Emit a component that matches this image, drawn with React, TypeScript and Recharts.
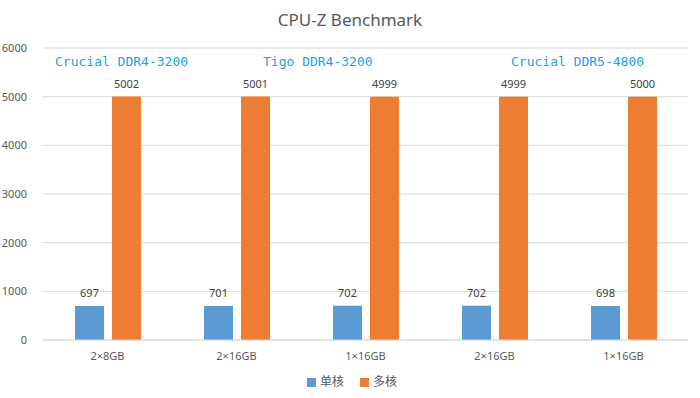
import { BarChart, Bar, XAxis, YAxis, CartesianGrid, Legend, LabelList } from 'recharts'

const configs = ['2×8GB', '2×16GB', '1×16GB', '2×16GB', '1×16GB']
const singleCore = [697, 701, 702, 702, 698]
const multiCore = [5002, 5001, 4999, 4999, 5000]
const yTicks = [0, 1000, 2000, 3000, 4000, 5000, 6000]

const memoryKits = [
  { name: 'Crucial DDR4-3200', left: 55 },
  { name: 'Tigo DDR4-3200', left: 263 },
  { name: 'Crucial DDR5-4800', left: 511 },
]

const data = configs.map((c, i) => ({
  config: c,
  single: singleCore[i],
  multi: multiCore[i],
}))

const font = '"Noto Sans", "Noto Sans CJK SC", sans-serif'

export default function App() {
  return (
    <div style={{ position: 'absolute', left: 0, top: 0, width: 700, height: 398, background: '#fff', fontFamily: font }}>
      <div style={{ position: 'absolute', top: 8, width: 700, textAlign: 'center', fontSize: 17, color: '#595959' }}>
        CPU-Z Benchmark
      </div>
      {memoryKits.map(k => (
        <div
          key={k.name + k.left}
          style={{
            position: 'absolute', left: k.left, top: 54, fontSize: 13,
            fontFamily: '"DejaVu Sans Mono", monospace', color: '#1a9ff0', whiteSpace: 'pre',
          }}
        >
          {k.name}
        </div>
      ))}
      <BarChart
        width={700}
        height={398}
        data={data}
        margin={{ top: 48, right: 12, bottom: 15, left: 0 }}
        barGap={8}
        barSize={29}
      >
        <CartesianGrid vertical={false} stroke="#d9d9d9" />
        <XAxis
          dataKey="config"
          height={25}
          tickLine={false}
          axisLine={{ stroke: '#d9d9d9' }}
          tick={{ fontSize: 11, fill: '#595959', fontFamily: font }}
          tickMargin={6}
        />
        <YAxis
          width={43}
          domain={[0, 6000]}
          ticks={yTicks}
          tickLine={false}
          axisLine={false}
          tick={{ fontSize: 11, fill: '#595959', fontFamily: font }}
          tickMargin={10}
        />
        <Legend
          iconType="square"
          iconSize={9}
          wrapperStyle={{ top: 372, left: 16, fontSize: 12, color: '#595959' }}
          formatter={(v: string) => <span style={{ color: '#595959', marginRight: 6 }}>{v}</span>}
        />
        <Bar dataKey="single" name="单核" fill="#5b9bd5" isAnimationActive={false}>
          <LabelList dataKey="single" position="top" offset={9} style={{ fontSize: 11, fill: '#404040', fontFamily: font }} />
        </Bar>
        <Bar dataKey="multi" name="多核" fill="#ed7d31" isAnimationActive={false}>
          <LabelList dataKey="multi" position="top" offset={9} style={{ fontSize: 11, fill: '#404040', fontFamily: font }} />
        </Bar>
      </BarChart>
    </div>
  )
}
